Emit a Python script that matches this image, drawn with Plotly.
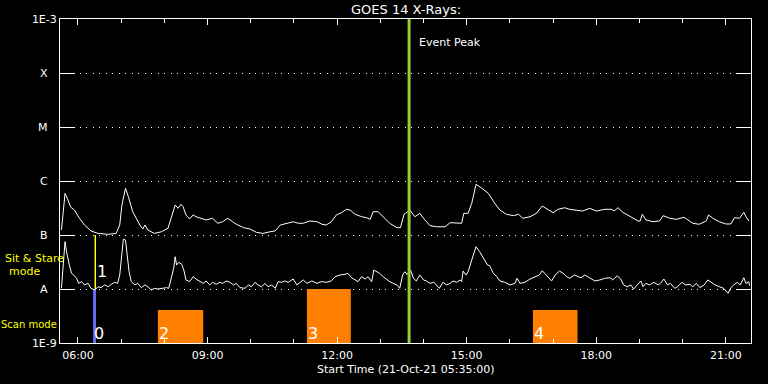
import pandas as pd
import plotly.graph_objects as go

DAY = "2021-10-21 "

# GOES long channel (1-8 A), upper curve
long_times = [
    "05:37","05:42","05:46","05:50","05:55","06:02","06:09","06:18","06:28","06:42",
    "06:53","06:58","07:01","07:06","07:10","07:16","07:26","07:30","07:33","07:37",
    "07:46","07:56","08:05","08:10","08:15","08:19","08:23","08:26","08:30","08:35",
    "08:40","08:44","08:51","08:58","09:07","09:14","09:21","09:28","09:35","09:40",
    "09:50","09:59","10:08","10:17","10:27","10:34","10:41","10:50","10:59","11:06",
    "11:13","11:22","11:32","11:39","11:45","11:52","11:59","12:06","12:13","12:18",
    "12:25","12:34","12:41","12:46","12:50","12:57","13:04","13:13","13:23","13:28",
    "13:33","13:41","13:48","13:55","14:02","14:09","14:18","14:30","14:37","14:46",
    "14:53","14:56","15:02","15:07","15:13","15:21","15:30","15:39","15:46","15:55",
    "16:05","16:12","16:18","16:28","16:37","16:45","16:53","17:00","17:07","17:16",
    "17:23","17:34","17:41","17:51","18:00","18:12","18:21","18:25","18:30","18:37",
    "18:44","18:51","18:58","19:01","19:04","19:09","19:19","19:28","19:33","19:42",
    "19:51","20:02","20:07","20:14","20:23","20:33","20:36","20:42","20:51","21:00",
    "21:07","21:12","21:19","21:25","21:28","21:32",
]
long_flux = [
    1.24e-7,5.9e-7,4.45e-7,3.26e-7,2.9e-7,2.04e-7,1.53e-7,1.19e-7,1.07e-7,1.03e-7,
    1.07e-7,1.53e-7,3.59e-7,7.35e-7,5.12e-7,2.7e-7,1.53e-7,1.29e-7,1.53e-7,1.24e-7,
    1.07e-7,1.15e-7,1.33e-7,2.18e-7,3.59e-7,3.12e-7,3.7e-7,3.34e-7,2.35e-7,1.98e-7,
    2.35e-7,2.18e-7,2.04e-7,1.9e-7,2.04e-7,1.65e-7,1.76e-7,2.04e-7,1.76e-7,1.58e-7,
    1.37e-7,1.29e-7,1.12e-7,1.07e-7,1.15e-7,1.19e-7,1.53e-7,1.65e-7,1.76e-7,1.65e-7,
    1.65e-7,1.82e-7,1.76e-7,1.58e-7,1.53e-7,1.76e-7,2.35e-7,2.59e-7,2.99e-7,2.9e-7,
    2.42e-7,2.18e-7,2.09e-7,1.95e-7,2.7e-7,2.7e-7,2.18e-7,1.65e-7,1.37e-7,1.37e-7,
    2.42e-7,2.9e-7,2.18e-7,2.52e-7,1.9e-7,1.49e-7,1.42e-7,1.42e-7,1.69e-7,1.69e-7,
    1.65e-7,2.52e-7,2.52e-7,3.86e-7,8.68e-7,7.35e-7,5.92e-7,3.86e-7,2.9e-7,2.42e-7,
    2.28e-7,2.42e-7,2.04e-7,2.18e-7,2.52e-7,3.44e-7,2.9e-7,2.59e-7,2.99e-7,3.2e-7,
    2.99e-7,2.9e-7,2.78e-7,3.12e-7,2.78e-7,2.99e-7,2.99e-7,2.78e-7,3.2e-7,2.63e-7,
    2.35e-7,2.04e-7,1.82e-7,1.82e-7,2.42e-7,1.9e-7,1.76e-7,1.82e-7,2.28e-7,2.04e-7,
    1.95e-7,2.13e-7,1.9e-7,1.65e-7,1.58e-7,1.82e-7,2.35e-7,2.04e-7,1.76e-7,1.6e-7,
    1.6e-7,2.09e-7,2.04e-7,2.63e-7,2.18e-7,1.82e-7,
]

# GOES short channel (0.5-4 A), lower curve
short_times = [
    "05:37","05:42","05:44","05:46","05:48","05:51","05:54","05:58","06:01","06:05",
    "06:09","06:14","06:18","06:23","06:28","06:32","06:37","06:42","06:46","06:51",
    "06:55","06:58","07:01","07:03","07:06","07:08","07:11","07:14","07:19","07:23",
    "07:28","07:33","07:37","07:42","07:46","07:51","07:56","08:03","08:06","08:10",
    "08:13","08:15","08:17","08:20","08:24","08:27","08:30","08:35","08:40","08:44",
    "08:49","08:54","08:58","09:03","09:07","09:12","09:17","09:21","09:26","09:31",
    "09:36","09:40","09:45","09:52","09:57","10:01","10:06","10:10","10:15","10:20",
    "10:24","10:29","10:34","10:38","10:43","10:47","10:52","10:59","11:04","11:08",
    "11:13","11:18","11:25","11:32","11:38","11:45","11:52","11:57","12:04","12:11",
    "12:15","12:20","12:25","12:29","12:34","12:39","12:43","12:48","12:51","12:55",
    "12:59","13:04","13:09","13:13","13:18","13:23","13:27","13:31","13:34","13:37",
    "13:42","13:46","13:50","13:55","14:00","14:04","14:09","14:14","14:18","14:22",
    "14:27","14:32","14:37","14:41","14:46","14:51","14:53","14:55","14:59","15:02",
    "15:07","15:13","15:18","15:23","15:29","15:32","15:37","15:42","15:46","15:53",
    "16:00","16:07","16:10","16:14","16:21","16:28","16:35","16:41","16:45","16:51",
    "16:58","17:03","17:09","17:14","17:19","17:23","17:30","17:35","17:39","17:44",
    "17:48","17:53","17:58","18:05","18:12","18:19","18:23","18:29","18:34","18:38",
    "18:43","18:48","18:52","18:57","19:02","19:05","19:09","19:14","19:20","19:26",
    "19:29","19:34","19:39","19:43","19:49","19:53","19:59","20:04","20:10","20:14",
    "20:19","20:24","20:30","20:35","20:40","20:45","20:51","20:57","21:03","21:07",
    "21:11","21:16","21:20","21:25","21:28","21:32","21:33",
]
short_flux = [
    1.03e-8,7.52e-8,4.91e-8,3.44e-8,2.78e-8,1.95e-8,1.82e-8,1.58e-8,1.27e-8,1.37e-8,
    1.19e-8,1.27e-8,1.03e-8,0.96e-8,1.1e-8,1.06e-8,1.19e-8,1.1e-8,1.22e-8,1.33e-8,
    1.27e-8,1.82e-8,4.26e-8,8.35e-8,8.08e-8,4.26e-8,2.09e-8,1.37e-8,1.19e-8,1.27e-8,
    1.06e-8,1.19e-8,1.1e-8,0.96e-8,1.03e-8,1.0e-8,1.03e-8,1.06e-8,1.03e-8,1.58e-8,
    2.42e-8,3.96e-8,2.78e-8,3.12e-8,2.87e-8,2.25e-8,1.47e-8,1.37e-8,1.69e-8,1.53e-8,
    1.41e-8,1.27e-8,1.41e-8,1.19e-8,1.33e-8,1.22e-8,1.33e-8,1.27e-8,1.41e-8,1.33e-8,
    1.19e-8,1.27e-8,1.06e-8,1.03e-8,1.19e-8,1.1e-8,1.33e-8,1.19e-8,1.1e-8,1.27e-8,
    1.1e-8,1.19e-8,1.03e-8,1.37e-8,1.33e-8,1.41e-8,1.33e-8,1.53e-8,1.19e-8,1.33e-8,
    1.47e-8,1.27e-8,1.41e-8,1.27e-8,1.37e-8,1.33e-8,1.41e-8,1.69e-8,1.82e-8,1.87e-8,
    1.95e-8,1.62e-8,1.47e-8,1.37e-8,1.69e-8,1.53e-8,1.69e-8,1.37e-8,2.25e-8,2.09e-8,
    1.95e-8,1.69e-8,1.47e-8,1.37e-8,1.27e-8,1.19e-8,1.03e-8,1.82e-8,2.09e-8,1.87e-8,
    2.25e-8,1.58e-8,1.41e-8,1.82e-8,1.47e-8,1.41e-8,1.27e-8,1.33e-8,1.19e-8,1.03e-8,
    1.33e-8,1.19e-8,1.27e-8,1.41e-8,1.33e-8,1.47e-8,1.37e-8,2.15e-8,1.82e-8,2.09e-8,
    3.44e-8,6.07e-8,4.91e-8,3.7e-8,2.78e-8,2.7e-8,1.95e-8,1.69e-8,1.41e-8,1.33e-8,
    1.19e-8,1.27e-8,1.58e-8,1.27e-8,1.33e-8,1.53e-8,1.69e-8,1.82e-8,2.18e-8,1.76e-8,
    1.41e-8,1.82e-8,2.15e-8,1.95e-8,1.69e-8,1.58e-8,1.82e-8,1.69e-8,1.62e-8,1.82e-8,
    1.69e-8,1.53e-8,1.41e-8,1.47e-8,1.58e-8,1.62e-8,1.47e-8,1.76e-8,1.53e-8,1.19e-8,
    1.1e-8,1.19e-8,1.0e-8,1.19e-8,1.41e-8,1.1e-8,1.27e-8,1.19e-8,1.33e-8,1.19e-8,
    1.27e-8,1.53e-8,1.19e-8,1.27e-8,1.03e-8,1.1e-8,1.33e-8,1.19e-8,1.22e-8,1.1e-8,
    1.27e-8,1.06e-8,1.19e-8,1.47e-8,1.33e-8,1.19e-8,1.1e-8,1.03e-8,0.83e-8,1.06e-8,
    1.19e-8,1.33e-8,1.19e-8,1.62e-8,1.27e-8,1.37e-8,1.15e-8,
]

# Axis labelling
x_range = ["05:35", "21:35"]
y_tick_vals = [1e-9, 1e-8, 1e-7, 1e-6, 1e-5, 1e-4, 1e-3]
y_tick_text = ["1E-9", "A", "B", "C", "M", "X", "1E-3"]

# Observation events
event_peak_time = "13:40"
sit_stare_label = "1"
sit_stare_time = "06:24"
sit_stare_low, sit_stare_high = 1e-8, 1e-7
scan_labels = ["0", "2", "3", "4"]
scan_start = ["06:21", "07:51", "11:18", "16:32"]
scan_end = ["06:25", "08:54", "12:19", "17:34"]
scan_top = [1e-8, 4.1e-9, 1e-8, 4.1e-9]
scan_base = 1e-9
scan_colors = ["#6a6aff", "#ff8000", "#ff8000", "#ff8000"]


def ts(t):
    return pd.Timestamp(DAY + t)


FONT = "DejaVu Sans"
fig = go.Figure()

# scan-mode rasters
for s, e, top, col in zip(scan_start, scan_end, scan_top, scan_colors):
    fig.add_trace(go.Scatter(
        x=[ts(s), ts(e), ts(e), ts(s), ts(s)],
        y=[scan_base, scan_base, top, top, scan_base],
        fill="toself", fillcolor=col, mode="lines",
        line=dict(width=0, color=col), hoverinfo="skip"))

# sit & stare marker
fig.add_trace(go.Scatter(
    x=[ts(sit_stare_time), ts(sit_stare_time)], y=[sit_stare_low, sit_stare_high],
    mode="lines", line=dict(color="#ffff00", width=1.5), hoverinfo="skip"))

# flux curves
fig.add_trace(go.Scatter(x=[ts(t) for t in long_times], y=long_flux, mode="lines",
                         line=dict(color="white", width=1), name="1-8 A"))
fig.add_trace(go.Scatter(x=[ts(t) for t in short_times], y=short_flux, mode="lines",
                         line=dict(color="white", width=1), name="0.5-4 A"))

# event peak
fig.add_trace(go.Scatter(
    x=[ts(event_peak_time), ts(event_peak_time)], y=[1e-9, 1e-3],
    mode="lines", line=dict(color="#9acd32", width=3), hoverinfo="skip"))

ann = []
ann.append(dict(text="GOES 14 X-Rays:", xref="paper", yref="paper", x=0.5, y=1,
                xanchor="center", yanchor="middle", yshift=10, showarrow=False,
                font=dict(family=FONT, size=13, color="white")))
ann.append(dict(text="Start Time (21-Oct-21 05:35:00)", xref="paper", yref="paper",
                x=0.5, y=0, xanchor="center", yanchor="middle", yshift=-26,
                showarrow=False, font=dict(family=FONT, size=11, color="white")))
ann.append(dict(text="Event Peak", xref="x", yref="paper", x=ts(event_peak_time),
                y=0.926, xanchor="left", yanchor="middle", xshift=8, showarrow=False,
                font=dict(family=FONT, size=11, color="white")))
for txt, yy, xs, fs in [("Sit & Stare", 0.2623, -26, 11), ("mode", 0.2222, -36, 11),
                        ("Scan mode", 0.0586, -31, 10)]:
    ann.append(dict(text=txt, xref="paper", yref="paper", x=0, y=yy,
                    xanchor="center", yanchor="middle", xshift=xs, showarrow=False,
                    font=dict(family=FONT, size=fs, color="#ffff00")))
for lab, s in zip(scan_labels, scan_start):
    ann.append(dict(text=lab, xref="x", yref="paper", x=ts(s), y=0.03,
                    xanchor="left", yanchor="middle", xshift=-1, showarrow=False,
                    font=dict(family=FONT, size=16, color="white")))
ann.append(dict(text=sit_stare_label, xref="x", yref="paper", x=ts(sit_stare_time),
                y=0.221, xanchor="left", yanchor="middle", xshift=0, showarrow=False,
                font=dict(family=FONT, size=16, color="white")))

pad = "\u00a0\u00a0\u2009"
fig.update_layout(
    width=768, height=384,
    paper_bgcolor="black", plot_bgcolor="black",
    margin=dict(l=60, r=17, t=19, b=41),
    showlegend=False,
    annotations=ann,
    xaxis=dict(
        type="date", range=[ts(x_range[0]), ts(x_range[1])],
        tickformat="%H:%M", dtick=3 * 3600000, tick0=DAY + "00:00",
        ticks="inside", ticklen=6, tickcolor="white", tickwidth=1,
        showline=True, linecolor="white", linewidth=1, mirror="ticks",
        showgrid=False, zeroline=False, ticklabelstandoff=2,
        tickfont=dict(family=FONT, size=11, color="white"),
        minor=dict(dtick=3600000, ticks="inside", ticklen=4, tickcolor="white",
                   showgrid=False),
    ),
    yaxis=dict(
        type="log", range=[-9, -3],
        tickvals=y_tick_vals,
        ticktext=[t if t.startswith("1E") else t + pad for t in y_tick_text],
        ticks="inside", ticklen=15, tickcolor="white", tickwidth=1,
        showline=True, linecolor="white", linewidth=1, mirror="ticks",
        showgrid=True, gridcolor="white", gridwidth=1, griddash="1px,5.5px",
        zeroline=False,
        tickfont=dict(family=FONT, size=11, color="white"),
    ),
)

fig.write_html(
    "out.html",
    config={"displayModeBar": False},
    post_script="document.body.style.margin='0';document.body.style.overflow='hidden';"
                "document.body.style.background='black';",
)
